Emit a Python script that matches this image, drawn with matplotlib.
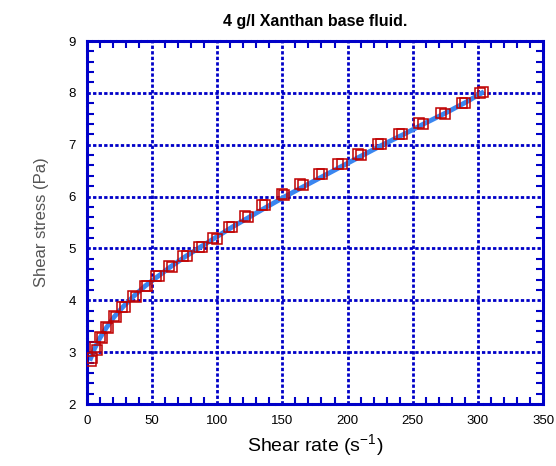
import matplotlib.pyplot as plt
from matplotlib.ticker import MultipleLocator

plt.rcParams["font.family"] = ["Liberation Sans", "DejaVu Sans"]

# measured points (ramp up)
rate_up = [4.3, 6.1, 10.5, 14.6, 20.7, 27.3, 35.5, 44.5, 53.4, 63.2, 74.0, 86.0, 97.0,
           109.0, 121.0, 134.0, 149.4, 163.5, 178.0, 193.0, 207.7, 223.6, 239.5, 255.0,
           272.0, 287.5, 301.6]
stress_up = [2.89, 3.10, 3.29, 3.48, 3.70, 3.88, 4.09, 4.28, 4.47, 4.66, 4.86, 5.03, 5.20,
             5.42, 5.62, 5.84, 6.05, 6.24, 6.43, 6.63, 6.82, 7.02, 7.21, 7.41,
             7.61, 7.81, 8.00]
# measured points (ramp down)
rate_down = [3.5, 7.5, 12.0, 16.5, 22.5, 29.5, 37.5, 46.5, 55.5, 65.5, 76.5, 88.5, 99.5,
             111.5, 123.5, 136.5, 151.5, 166.0, 180.5, 195.5, 210.0, 226.0, 242.0, 257.5,
             274.5, 290.0, 303.5]
stress_down = [2.82, 3.05, 3.27, 3.46, 3.68, 3.87, 4.07, 4.27, 4.46, 4.65, 4.85, 5.02, 5.19,
               5.41, 5.61, 5.83, 6.04, 6.23, 6.43, 6.62, 6.81, 7.01, 7.21, 7.40,
               7.60, 7.80, 8.01]
# fitted curve
fit_rate = [3, 6, 10, 15, 21, 28, 36, 45, 55, 65, 76, 88, 100, 112, 125, 138, 152, 166,
            181, 196, 211, 227, 243, 259, 275, 290, 303]
fit_stress = [2.88, 3.07, 3.27, 3.47, 3.68, 3.88, 4.08, 4.28, 4.47, 4.66, 4.85, 5.04, 5.23,
              5.42, 5.61, 5.80, 6.00, 6.19, 6.39, 6.59, 6.79, 7.00, 7.20, 7.41, 7.61, 7.81, 8.00]

GRID_BLUE = "#0000c8"

fig = plt.figure(figsize=(5.56, 4.66), dpi=100)
ax = fig.add_axes([0.156, 0.133, 0.821, 0.779])

ax.plot(fit_rate, fit_stress, color="#3a86f0", lw=3.5, zorder=2)
ax.plot(rate_up, stress_up, ls="none", marker="s", ms=6.5, mfc="none", mec="#c00000", mew=1.1, zorder=3)
ax.plot(rate_down, stress_down, ls="none", marker="s", ms=6.5, mfc="none", mec="#c00000", mew=1.1, zorder=3)

ax.set_xlim(0, 350)
ax.set_ylim(2, 9)
ax.xaxis.set_major_locator(MultipleLocator(50))
ax.xaxis.set_minor_locator(MultipleLocator(10))
ax.yaxis.set_major_locator(MultipleLocator(1))
ax.yaxis.set_minor_locator(MultipleLocator(0.2))

ax.grid(True, which="major", color=GRID_BLUE, ls=(0, (1.2, 0.8)), lw=2)
for sp in ax.spines.values():
    sp.set_color(GRID_BLUE)
    sp.set_linestyle((0, (1.2, 0.8)))
    sp.set_linewidth(2.2)

ax.tick_params(which="both", direction="in", top=True, right=True, color=GRID_BLUE,
               labelsize=9.5, labelcolor="black")
ax.tick_params(which="major", length=0, width=1.5, pad=8)
ax.tick_params(which="minor", length=5, width=1.5)

ax.set_title("4 g/l Xanthan base fluid.", fontsize=11.5, fontweight="bold", pad=11)
ax.set_xlabel("Shear rate (s$^{\\mathregular{-1}}$)", fontsize=14)
ax.set_ylabel("Shear stress (Pa)", fontsize=12, color="#555555", labelpad=14)

fig.savefig("out.png", dpi=100)
